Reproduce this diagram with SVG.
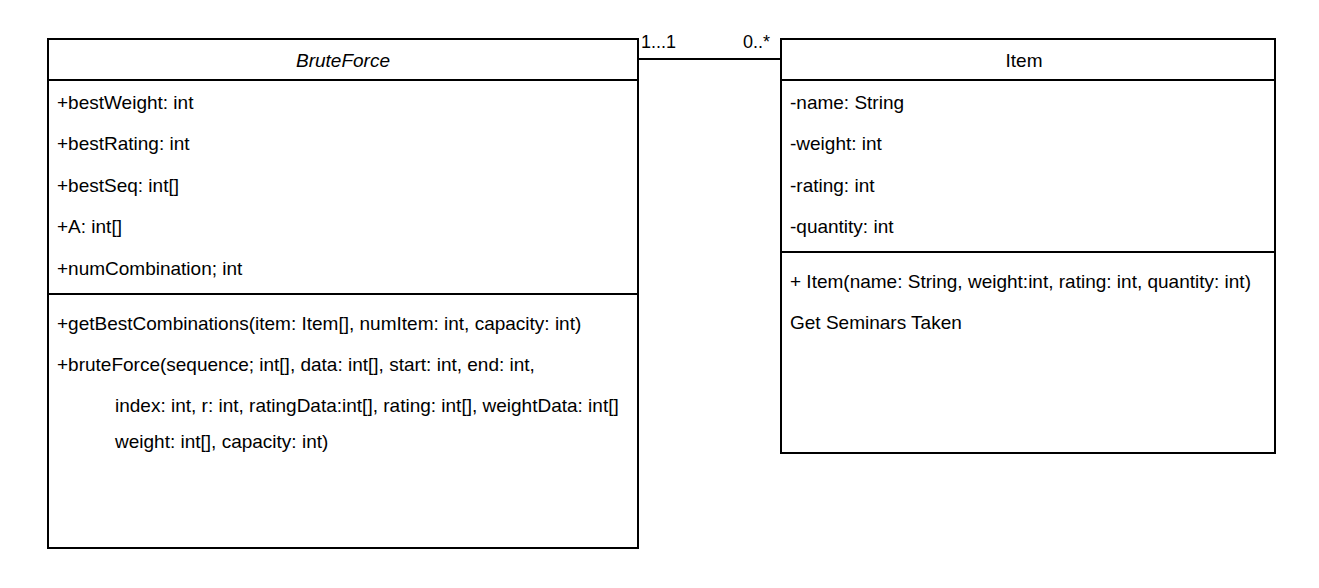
<svg xmlns="http://www.w3.org/2000/svg" width="1319" height="588" viewBox="0 0 1319 588">
<style>
.box{fill:#fff;stroke:#000;stroke-width:2}
.ln{stroke:#000;stroke-width:2;fill:none}
text{font-family:"Liberation Sans",Arial,sans-serif;font-size:19px;fill:#000}
.ttl{text-anchor:middle}
.it{font-style:italic}
.lbl{font-size:18px}
</style>
<rect width="1319" height="588" fill="#fff"/>
<g id="connectors">
<line class="ln" x1="638" y1="59" x2="781" y2="59"/>
<text class="lbl" x="641" y="48">1...1</text>
<text class="lbl" x="743" y="48">0..*</text>
</g>
<g id="BruteForce">
<rect class="box" x="48" y="39" width="590" height="509"/>
<line class="ln" x1="48" y1="80" x2="638" y2="80"/>
<line class="ln" x1="48" y1="294" x2="638" y2="294"/>
<text class="ttl it" x="343" y="67">BruteForce</text>
<text x="57" y="109">+bestWeight: int</text>
<text x="57" y="150">+bestRating: int</text>
<text x="57" y="192">+bestSeq: int[]</text>
<text x="57" y="233">+A: int[]</text>
<text x="57" y="275">+numCombination; int</text>
<text x="57" y="330">+getBestCombinations(item: Item[], numItem: int, capacity: int)</text>
<text x="57" y="371">+bruteForce(sequence; int[], data: int[], start: int, end: int,</text>
<text x="115" y="412">index: int, r: int, ratingData:int[], rating: int[], weightData: int[]</text>
<text x="115" y="448">weight: int[], capacity: int)</text>
</g>
<g id="Item">
<rect class="box" x="781" y="39" width="494" height="414"/>
<line class="ln" x1="781" y1="80" x2="1275" y2="80"/>
<line class="ln" x1="781" y1="252" x2="1275" y2="252"/>
<text class="ttl" x="1024" y="67">Item</text>
<text x="790" y="109">-name: String</text>
<text x="790" y="150">-weight: int</text>
<text x="790" y="192">-rating: int</text>
<text x="790" y="233">-quantity: int</text>
<text x="790" y="288">+ Item(name: String, weight:int, rating: int, quantity: int)</text>
<text x="790" y="329">Get Seminars Taken</text>
</g>
</svg>
